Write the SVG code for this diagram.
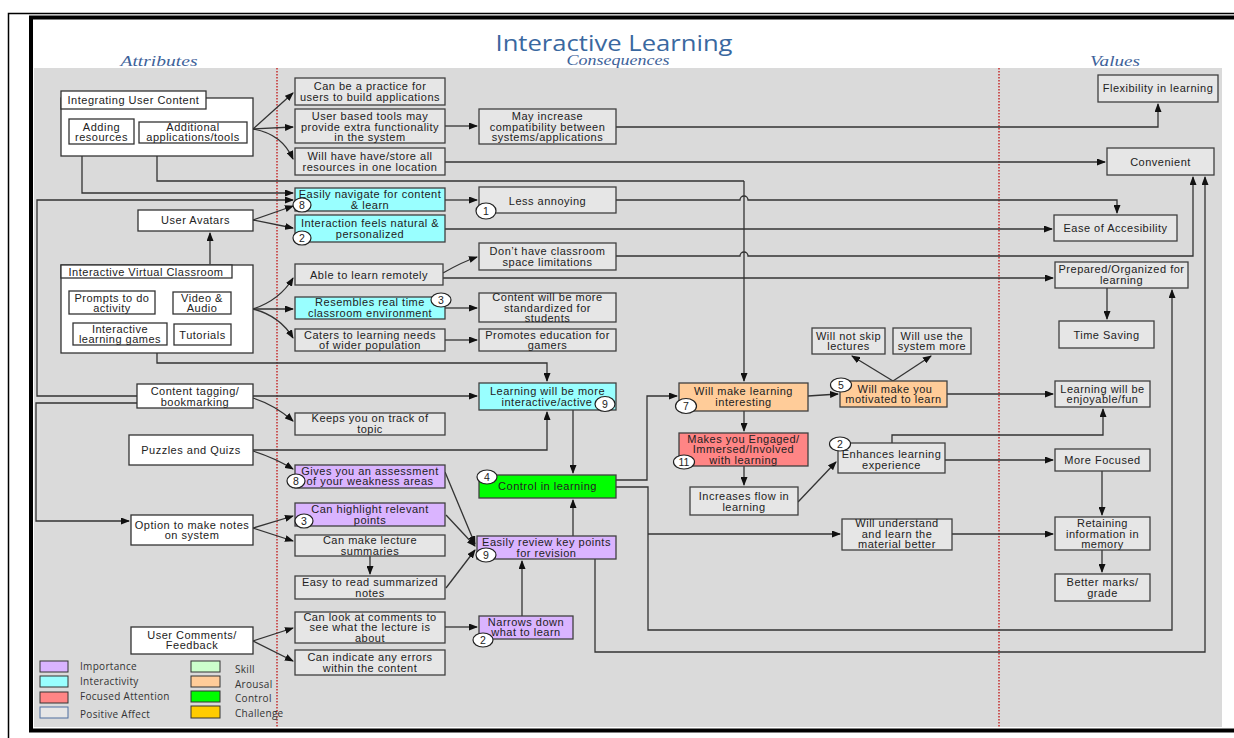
<svg xmlns="http://www.w3.org/2000/svg" width="1234" height="738" viewBox="0 0 1234 738">
<style>
.a{fill:#fff;stroke:#333;stroke-width:1.3}
.c{fill:#e6e6e6;stroke:#404040;stroke-width:1.3}
.cy{fill:#99ffff}
.lv{fill:#dab4ff}
.or{fill:#ffcc99}
.rd{fill:#ff8585}
.gr{fill:#00ff00}
text{font-family:"Liberation Sans",Arial,sans-serif;font-size:11px;letter-spacing:0.5px;fill:#222;text-anchor:middle}
.b ellipse{fill:#fff;stroke:#222;stroke-width:1.2}
.b text{font-size:10.5px;letter-spacing:0}
#connectors path{fill:none;stroke:#333;stroke-width:1.3}
.ar{marker-end:url(#ah)}
.lg text{font-family:"Open Sans",sans-serif;font-size:10px;fill:#333;text-anchor:start;letter-spacing:0.3px}
.lg rect{stroke:#333;stroke-width:1}
.hd{font-family:"Liberation Serif",serif;font-style:italic;font-size:15px;fill:#3d629a;letter-spacing:0}
</style>
<defs>
<marker id="ah" markerUnits="userSpaceOnUse" markerWidth="9" markerHeight="7" refX="8" refY="3.5" orient="auto">
<path d="M0,0 L9,3.5 L0,7 z" fill="#111"/>
</marker>
</defs>
<rect width="1234" height="738" fill="#fff"/>
<path d="M8.5,738 V13.5 H1234" fill="none" stroke="#000" stroke-width="1.5"/>
<rect x="31" y="17.5" width="1220" height="713" fill="none" stroke="#000" stroke-width="4"/>
<rect x="34" y="68" width="1188" height="659" fill="#dadada"/>
<line x1="277" y1="68" x2="277" y2="727" stroke="#c00000" stroke-width="1.2" stroke-dasharray="1.5,1.5"/>
<line x1="999" y1="68" x2="999" y2="727" stroke="#c00000" stroke-width="1.2" stroke-dasharray="1.5,1.5"/>
<text x="614" y="50.5" style="font-family:'Open Sans',sans-serif;font-size:21px;fill:#3a68a0;letter-spacing:0" textLength="237" lengthAdjust="spacingAndGlyphs">Interactive Learning</text>
<text x="618" y="65" class="hd" textLength="103" lengthAdjust="spacingAndGlyphs">Consequences</text>
<text x="159" y="66" class="hd" textLength="77" lengthAdjust="spacingAndGlyphs">Attributes</text>
<text x="1115" y="66" class="hd" textLength="50" lengthAdjust="spacingAndGlyphs">Values</text>

<g id="connectors">
<path class="ar" d="M253,129 L293,93"/>
<path class="ar" d="M253,129 L293,127"/>
<path class="ar" d="M253,129 Q282,134 293,159"/>
<path class="ar" d="M82,156 V193 H293"/>
<path d="M157,156 V181 H744"/>
<path class="ar" d="M744,181 V381"/>
<path class="ar" d="M445,126 H477"/>
<path class="ar" d="M616,127 H1158 V104"/>
<path class="ar" d="M445,162 H1105"/>
<path class="ar" d="M445,200 H477"/>
<path class="ar" d="M616,200 H740 A4,4 0 0 1 748,200 H1117 V213"/>
<path class="ar" d="M445,229 H1052"/>
<path class="ar" d="M253,220 L293,206"/>
<path class="ar" d="M253,220 L293,228"/>
<path class="ar" d="M210,264 V233"/>
<path class="ar" d="M443,273 Q462,262 477,257"/>
<path class="ar" d="M616,256 H740 A4,4 0 0 1 748,256 H1193 V177"/>
<path class="ar" d="M443,278 H1053"/>
<path class="ar" d="M253,309 Q280,300 293,278"/>
<path class="ar" d="M253,309 H293"/>
<path class="ar" d="M253,309 Q280,316 293,338"/>
<path class="ar" d="M445,308 H477"/>
<path class="ar" d="M445,340 H477"/>
<path class="ar" d="M157,353 V363 H547 V381"/>
<path class="ar" d="M137,396 H37 V200 H293"/>
<path class="ar" d="M137,403 H36 V521 H129"/>
<path class="ar" d="M253,396 H477"/>
<path class="ar" d="M253,398 Q275,405 293,421"/>
<path class="ar" d="M253,450 H547 V412"/>
<path class="ar" d="M253,451 Q275,458 293,469"/>
<path class="ar" d="M573,410 V473"/>
<path class="ar" d="M445,472 L475,544"/>
<path class="ar" d="M253,528 L293,516"/>
<path class="ar" d="M253,528 L293,541"/>
<path class="ar" d="M446,515 L475,546"/>
<path class="ar" d="M370,556 V574"/>
<path class="ar" d="M446,588 L475,550"/>
<path class="ar" d="M253,641 L293,628"/>
<path class="ar" d="M253,641 L293,661"/>
<path class="ar" d="M445,627 H477"/>
<path class="ar" d="M522,616 V561"/>
<path class="ar" d="M573,536 V500"/>
<path class="ar" d="M595,559 V652 H1205 V177"/>
<path class="ar" d="M616,480 H647 V396 H677"/>
<path class="ar" d="M616,487 H648 V630 H1172 V290"/>
<path class="ar" d="M648,534 H840"/>
<path class="ar" d="M808,396 L838,394"/>
<path class="ar" d="M744,411 V431"/>
<path class="ar" d="M744,466 V485"/>
<path class="ar" d="M798,502 L836,462"/>
<path class="ar" d="M893,381 L852,356"/>
<path class="ar" d="M893,381 L931,356"/>
<path class="ar" d="M947,394 H1053"/>
<path class="ar" d="M892,443 V435 H1103 V409"/>
<path class="ar" d="M945,460 H1053"/>
<path class="ar" d="M1102,471 V515"/>
<path class="ar" d="M952,534 H1053"/>
<path class="ar" d="M1102,550 V572"/>
<path class="ar" d="M1107,288 V319"/>
</g>

<g id="n-iuc">
<rect class="a" x="61" y="98" width="192" height="58"/>
<rect class="a" x="61" y="91" width="145" height="18"/>
<text x="133.5" y="104">Integrating User Content</text>
</g>
<g id="n-adding"><rect class="a" x="69" y="119" width="65" height="25"/><text x="101.5" y="131">Adding</text><text x="101.5" y="141">resources</text></g>
<g id="n-addapps"><rect class="a" x="139" y="122" width="108" height="21"/><text x="193" y="131">Additional</text><text x="193" y="141">applications/tools</text></g>
<g id="n-avatars"><rect class="a" x="138" y="210" width="115" height="21"/><text x="195.5" y="224">User Avatars</text></g>
<g id="n-ivc">
<rect class="a" x="61" y="265" width="192" height="88"/>
<rect class="a" x="61" y="265" width="171" height="13"/>
<text x="146" y="275.5">Interactive Virtual Classroom</text>
</g>
<g id="n-prompts"><rect class="a" x="69" y="291" width="86" height="23"/><text x="112" y="301.5">Prompts to do</text><text x="112" y="312">activity</text></g>
<g id="n-video"><rect class="a" x="173" y="292" width="58" height="22"/><text x="202" y="301.5">Video &amp;</text><text x="202" y="312">Audio</text></g>
<g id="n-games"><rect class="a" x="73" y="323" width="94" height="22"/><text x="120" y="333">Interactive</text><text x="120" y="343">learning games</text></g>
<g id="n-tutorials"><rect class="a" x="174" y="324" width="57" height="21"/><text x="202.5" y="338.5">Tutorials</text></g>
<g id="n-tagging"><rect class="a" x="137" y="384" width="116" height="24"/><text x="195" y="395">Content tagging/</text><text x="195" y="406">bookmarking</text></g>
<g id="n-puzzles"><rect class="a" x="129" y="435" width="124" height="30"/><text x="191" y="454">Puzzles and Quizs</text></g>
<g id="n-notes"><rect class="a" x="131" y="515" width="122" height="30"/><text x="192" y="528.7">Option to make notes</text><text x="192" y="538.7">on system</text></g>
<g id="n-comments"><rect class="a" x="131" y="627" width="122" height="27"/><text x="192" y="638.7">User Comments/</text><text x="192" y="649.3">Feedback</text></g>

<g id="n-c1"><rect class="c" x="295" y="78" width="150" height="27"/><text x="370" y="90">Can be a practice for</text><text x="370" y="101">users to build applications</text></g>
<g id="n-c2"><rect class="c" x="295" y="109" width="150" height="34"/><text x="370" y="120">User based tools may</text><text x="370" y="130.5">provide extra functionality</text><text x="370" y="141">in the system</text></g>
<g id="n-c3"><rect class="c" x="295" y="148" width="150" height="27"/><text x="370" y="160">Will have have/store all</text><text x="370" y="170.5">resources in one location</text></g>
<g id="n-c4"><rect class="c cy" x="295" y="188" width="150" height="23"/><text x="370" y="198">Easily navigate for content</text><text x="370" y="208.5">&amp; learn</text></g>
<g id="n-c5"><rect class="c cy" x="295" y="215" width="150" height="27"/><text x="370" y="226.7">Interaction feels natural &amp;</text><text x="370" y="237.7">personalized</text></g>
<g id="n-c6"><rect class="c" x="295" y="264" width="148" height="21"/><text x="369" y="279">Able to learn remotely</text></g>
<g id="n-c7"><rect class="c cy" x="295" y="297" width="150" height="22"/><text x="370" y="306">Resembles real time</text><text x="370" y="316.7">classroom environment</text></g>
<g id="n-c8"><rect class="c" x="295" y="329" width="150" height="22"/><text x="370" y="339">Caters to learning needs</text><text x="370" y="349">of wider population</text></g>
<g id="n-c9"><rect class="c" x="295" y="413" width="150" height="22"/><text x="370" y="422.3">Keeps you on track of</text><text x="370" y="433">topic</text></g>
<g id="n-c10"><rect class="c lv" x="295" y="465" width="150" height="23"/><text x="370" y="474.7">Gives you an assessment</text><text x="370" y="484.7">of your weakness areas</text></g>
<g id="n-c11"><rect class="c lv" x="295" y="503" width="150" height="23"/><text x="370" y="512.7">Can highlight relevant</text><text x="370" y="524">points</text></g>
<g id="n-c12"><rect class="c" x="295" y="535" width="150" height="21"/><text x="370" y="544">Can make lecture</text><text x="370" y="554.7">summaries</text></g>
<g id="n-c13"><rect class="c" x="295" y="576" width="150" height="23"/><text x="370" y="586">Easy to read summarized</text><text x="370" y="597">notes</text></g>
<g id="n-c14"><rect class="c" x="295" y="612" width="150" height="31"/><text x="370" y="620.7">Can look at comments to</text><text x="370" y="630.7">see what the lecture is</text><text x="370" y="642">about</text></g>
<g id="n-c15"><rect class="c" x="295" y="650" width="150" height="25"/><text x="370" y="661">Can indicate any errors</text><text x="370" y="672">within the content</text></g>

<g id="n-d1"><rect class="c" x="479" y="109" width="137" height="35"/><text x="547.5" y="120">May increase</text><text x="547.5" y="130.5">compatibility between</text><text x="547.5" y="141">systems/applications</text></g>
<g id="n-d2"><rect class="c" x="479" y="187" width="137" height="26"/><text x="547.5" y="205">Less annoying</text></g>
<g id="n-d3"><rect class="c" x="479" y="243" width="137" height="27"/><text x="547.5" y="255">Don’t have classroom</text><text x="547.5" y="266">space limitations</text></g>
<g id="n-d4"><rect class="c" x="479" y="293" width="137" height="29"/><text x="547.5" y="301.3">Content will be more</text><text x="547.5" y="312.3">standardized for</text><text x="547.5" y="322.3">students</text></g>
<g id="n-d5"><rect class="c" x="479" y="329" width="137" height="22"/><text x="547.5" y="339">Promotes education for</text><text x="547.5" y="349">gamers</text></g>
<g id="n-d6"><rect class="c cy" x="479" y="383" width="137" height="27"/><text x="547.5" y="395">Learning will be more</text><text x="547" y="405.7">interactive/active</text></g>
<g id="n-d7"><rect class="c gr" x="479" y="475" width="137" height="23"/><text x="547.5" y="490">Control in learning</text></g>
<g id="n-d8"><rect class="c lv" x="477" y="536" width="139" height="23"/><text x="546.5" y="545.7">Easily review key points</text><text x="546.5" y="556.7">for revision</text></g>
<g id="n-d9"><rect class="c lv" x="479" y="616" width="94" height="23"/><text x="526" y="626">Narrows down</text><text x="526" y="636">what to learn</text></g>

<g id="n-e1"><rect class="c or" x="679" y="383" width="129" height="28"/><text x="743.5" y="395">Will make learning</text><text x="743.5" y="406">interesting</text></g>
<g id="n-e2"><rect class="c rd" x="679" y="433" width="129" height="33"/><text x="743.5" y="443">Makes you Engaged/</text><text x="743.5" y="453">Immersed/Involved</text><text x="743.5" y="464">with learning</text></g>
<g id="n-e3"><rect class="c" x="690" y="487" width="108" height="28"/><text x="744" y="499.7">Increases flow in</text><text x="744" y="510.7">learning</text></g>
<g id="n-e4"><rect class="c" x="812" y="328" width="73" height="26"/><text x="848.5" y="340">Will not skip</text><text x="848.5" y="350">lectures</text></g>
<g id="n-e5"><rect class="c" x="893" y="328" width="78" height="26"/><text x="932" y="340">Will use the</text><text x="932" y="350">system more</text></g>
<g id="n-e6"><rect class="c or" x="840" y="381" width="107" height="26"/><text x="895" y="392.7">Will make you</text><text x="893.5" y="402.7">motivated to learn</text></g>
<g id="n-e7"><rect class="c" x="838" y="443" width="107" height="30"/><text x="891.5" y="457.7">Enhances learning</text><text x="891.5" y="468.7">experience</text></g>
<g id="n-e8"><rect class="c" x="842" y="519" width="110" height="31"/><text x="897" y="527">Will understand</text><text x="897" y="537.7">and learn the</text><text x="897" y="548">material better</text></g>

<g id="n-v1"><rect class="c" x="1098" y="75" width="120" height="27"/><text x="1158" y="92">Flexibility in learning</text></g>
<g id="n-v2"><rect class="c" x="1107" y="148" width="107" height="27"/><text x="1160.5" y="166">Convenient</text></g>
<g id="n-v3"><rect class="c" x="1054" y="215" width="123" height="26"/><text x="1115.5" y="232">Ease of Accesibility</text></g>
<g id="n-v4"><rect class="c" x="1055" y="262" width="133" height="26"/><text x="1121.5" y="273">Prepared/Organized for</text><text x="1121.5" y="284">learning</text></g>
<g id="n-v5"><rect class="c" x="1059" y="321" width="95" height="27"/><text x="1106.5" y="339">Time Saving</text></g>
<g id="n-v6"><rect class="c" x="1055" y="381" width="95" height="26"/><text x="1102.5" y="393">Learning will be</text><text x="1102.5" y="403">enjoyable/fun</text></g>
<g id="n-v7"><rect class="c" x="1055" y="449" width="95" height="22"/><text x="1102.5" y="464">More Focused</text></g>
<g id="n-v8"><rect class="c" x="1055" y="517" width="95" height="33"/><text x="1102.5" y="527">Retaining</text><text x="1102.5" y="538">information in</text><text x="1102.5" y="548">memory</text></g>
<g id="n-v9"><rect class="c" x="1055" y="574" width="95" height="27"/><text x="1102.5" y="586">Better marks/</text><text x="1102.5" y="596.7">grade</text></g>

<g id="badges" class="b">
<g><ellipse cx="302" cy="205" rx="9" ry="7"/><text x="302" y="208.5">8</text></g>
<g><ellipse cx="302" cy="238" rx="9" ry="7"/><text x="302" y="241.5">2</text></g>
<g><ellipse cx="486" cy="211" rx="10" ry="8"/><text x="486" y="214.5">1</text></g>
<g><ellipse cx="441" cy="300" rx="10" ry="7"/><text x="441" y="303.5">3</text></g>
<g><ellipse cx="605" cy="404" rx="10" ry="7.5"/><text x="605" y="407.5">9</text></g>
<g><ellipse cx="487" cy="477" rx="10" ry="7"/><text x="487" y="480.5">4</text></g>
<g><ellipse cx="296" cy="481" rx="9" ry="7"/><text x="296" y="484.5">8</text></g>
<g><ellipse cx="304" cy="521" rx="9" ry="7"/><text x="304" y="524.5">3</text></g>
<g><ellipse cx="486" cy="555" rx="10" ry="7"/><text x="486" y="558.5">9</text></g>
<g><ellipse cx="483" cy="640" rx="10" ry="7"/><text x="483" y="643.5">2</text></g>
<g><ellipse cx="686" cy="406" rx="10.5" ry="7.5"/><text x="686" y="409.5">7</text></g>
<g><ellipse cx="684" cy="462" rx="10.5" ry="7"/><text x="684" y="465.5">11</text></g>
<g><ellipse cx="841" cy="385" rx="10.5" ry="7"/><text x="841" y="388.5">5</text></g>
<g><ellipse cx="840" cy="444" rx="10.5" ry="7"/><text x="840" y="447.5">2</text></g>
</g>

<g id="legend" class="lg">
<rect x="40" y="661" width="28" height="11" fill="#dab4ff"/><text x="80" y="670">Importance</text>
<rect x="40" y="676" width="28" height="11" fill="#99ffff"/><text x="80" y="685">Interactivity</text>
<rect x="40" y="692" width="28" height="11" fill="#ff8585"/><text x="80" y="700">Focused Attention</text>
<rect x="40" y="707" width="28" height="11" fill="#e6e6e6" style="stroke:#4f6f9f"/><text x="80" y="718">Positive Affect</text>
<rect x="191" y="661" width="29" height="11" fill="#ccffcc"/><text x="235" y="673">Skill</text>
<rect x="191" y="676" width="29" height="11" fill="#ffcc99"/><text x="235" y="688">Arousal</text>
<rect x="191" y="691" width="29" height="11" fill="#00ff00"/><text x="235" y="702">Control</text>
<rect x="191" y="706" width="29" height="12" fill="#ffcc00"/><text x="235" y="717">Challenge</text>
</g>
</svg>
